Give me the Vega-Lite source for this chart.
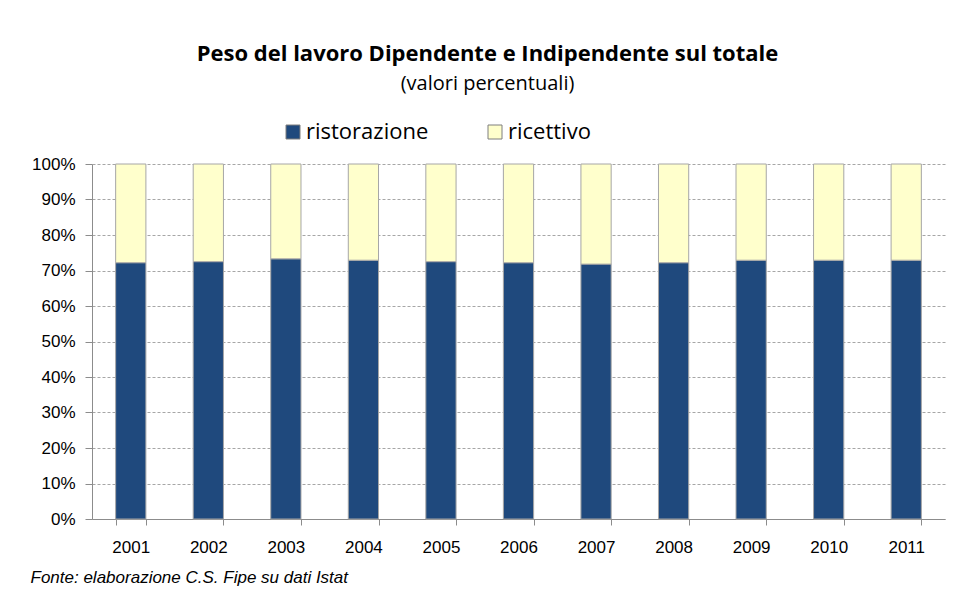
{
  "$schema": "https://vega.github.io/schema/vega-lite/v6.json",
  "width": 853,
  "height": 355,
  "autosize": {"type": "none"},
  "padding": {"left": 92, "top": 164, "right": 10, "bottom": 71},
  "background": "white",
  "config": {"view": {"stroke": null}},
  "title": {
    "text": "Peso del lavoro Dipendente e Indipendente sul totale",
    "subtitle": "(valori percentuali)",
    "anchor": "middle",
    "frame": "group",
    "dx": -31,
    "offset": 26,
    "font": "Open Sans",
    "fontSize": 22,
    "fontWeight": "bold",
    "color": "#000000",
    "subtitleFont": "Open Sans",
    "subtitleFontSize": 20,
    "subtitleColor": "#000000",
    "subtitlePadding": 8
  },
  "data": {
    "values": [
      {"anno": "2001", "settore": "ristorazione", "valore": 72.2},
      {"anno": "2001", "settore": "ricettivo", "valore": 27.8},
      {"anno": "2002", "settore": "ristorazione", "valore": 72.5},
      {"anno": "2002", "settore": "ricettivo", "valore": 27.5},
      {"anno": "2003", "settore": "ristorazione", "valore": 73.3},
      {"anno": "2003", "settore": "ricettivo", "valore": 26.7},
      {"anno": "2004", "settore": "ristorazione", "valore": 72.9},
      {"anno": "2004", "settore": "ricettivo", "valore": 27.1},
      {"anno": "2005", "settore": "ristorazione", "valore": 72.5},
      {"anno": "2005", "settore": "ricettivo", "valore": 27.5},
      {"anno": "2006", "settore": "ristorazione", "valore": 72.2},
      {"anno": "2006", "settore": "ricettivo", "valore": 27.8},
      {"anno": "2007", "settore": "ristorazione", "valore": 71.8},
      {"anno": "2007", "settore": "ricettivo", "valore": 28.2},
      {"anno": "2008", "settore": "ristorazione", "valore": 72.2},
      {"anno": "2008", "settore": "ricettivo", "valore": 27.8},
      {"anno": "2009", "settore": "ristorazione", "valore": 72.9},
      {"anno": "2009", "settore": "ricettivo", "valore": 27.1},
      {"anno": "2010", "settore": "ristorazione", "valore": 72.9},
      {"anno": "2010", "settore": "ricettivo", "valore": 27.1},
      {"anno": "2011", "settore": "ristorazione", "valore": 72.9},
      {"anno": "2011", "settore": "ricettivo", "valore": 27.1}
    ]
  },
  "transform": [
    {"calculate": "datum.settore === 'ristorazione' ? 0 : 1", "as": "ordine"}
  ],
  "mark": {"type": "bar", "stroke": "#a6a6a6", "strokeWidth": 1},
  "encoding": {
    "x": {
      "field": "anno",
      "type": "nominal",
      "sort": null,
      "scale": {"paddingInner": 0.61, "paddingOuter": 0.305},
      "axis": {
        "title": "Fonte: elaborazione C.S. Fipe su dati Istat",
        "titleFont": "Liberation Sans",
        "titleFontSize": 17,
        "titleFontStyle": "italic",
        "titleFontWeight": "normal",
        "titleColor": "#000000",
        "titleAlign": "left",
        "titleAnchor": "start",
        "titleBaseline": "alphabetic",
        "titleX": -62,
        "titleY": 63,
        "labelAngle": 0,
        "labelFont": "Liberation Sans",
        "labelFontSize": 17,
        "labelColor": "#000000",
        "labelPadding": 14,
        "tickBand": "extent",
        "tickSize": 6,
        "tickColor": "#8c8c8c",
        "domainColor": "#8c8c8c",
        "grid": false
      }
    },
    "y": {
      "field": "valore",
      "type": "quantitative",
      "stack": "zero",
      "scale": {"domain": [0, 100], "nice": false},
      "axis": {
        "title": null,
        "values": [0, 10, 20, 30, 40, 50, 60, 70, 80, 90, 100],
        "labelExpr": "datum.value + '%'",
        "labelFont": "Liberation Sans",
        "labelFontSize": 17,
        "labelColor": "#000000",
        "labelPadding": 10,
        "tickSize": 7,
        "tickColor": "#8c8c8c",
        "domainColor": "#8c8c8c",
        "grid": true,
        "gridColor": "#a6a6a6",
        "gridDash": [3, 2]
      }
    },
    "color": {
      "field": "settore",
      "type": "nominal",
      "sort": ["ristorazione", "ricettivo"],
      "scale": {"domain": ["ristorazione", "ricettivo"], "range": ["#1f497d", "#ffffcc"]},
      "legend": {
        "title": null,
        "orient": "none",
        "direction": "horizontal",
        "legendX": 190,
        "legendY": -43,
        "symbolType": "square",
        "symbolSize": 196,
        "symbolStrokeColor": "#7f7f7f",
        "symbolStrokeWidth": 1,
        "labelFont": "Open Sans",
        "labelFontSize": 22,
        "labelColor": "#000000",
        "labelOffset": 2,
        "columnPadding": 55
      }
    },
    "order": {"field": "ordine", "type": "quantitative"}
  }
}
